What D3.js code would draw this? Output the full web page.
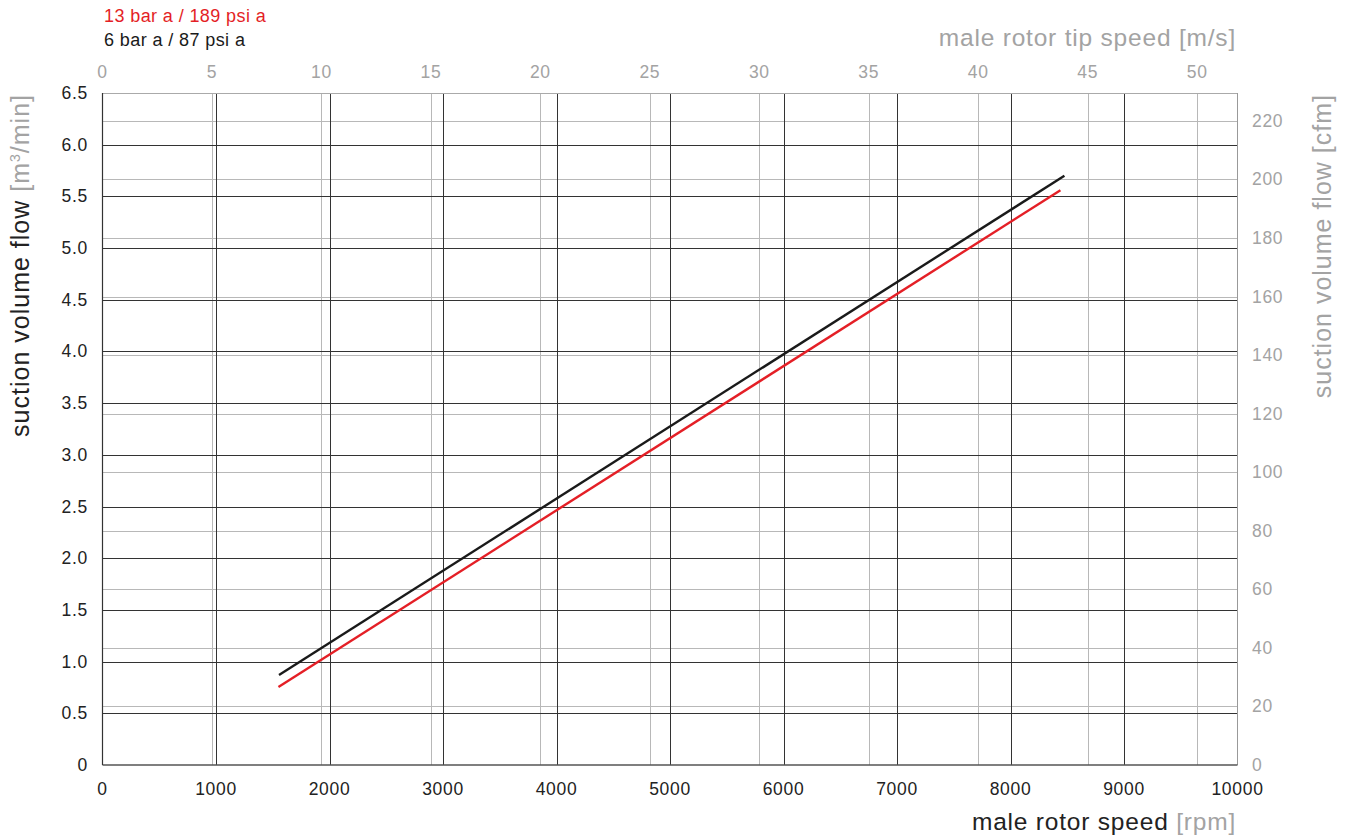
<!DOCTYPE html>
<html>
<head>
<meta charset="utf-8">
<script src="https://cdn.jsdelivr.net/npm/d3@7"></script>
<style>
  body { margin: 0; background: #fff; }
  text { font-family: "Liberation Sans", Arial, sans-serif; }
</style>
</head>
<body>
<div id="chart"></div>
<script>
// series data: male rotor speed [rpm] vs suction volume flow [m3/min]
var seriesNames = ["13 bar a / 189 psi a", "6 bar a / 87 psi a"];
var seriesColors = ["#e41f26", "#1a1a1a"];
var rpm13 = [1550, 8440];
var flow13 = [0.755, 5.56];
var rpm6 = [1555, 8475];
var flow6 = [0.87, 5.70];

// tick values
var rpmTicks = [0, 1000, 2000, 3000, 4000, 5000, 6000, 7000, 8000, 9000, 10000];
var flowTicks = [0, 0.5, 1.0, 1.5, 2.0, 2.5, 3.0, 3.5, 4.0, 4.5, 5.0, 5.5, 6.0, 6.5];
var tipTicks = [0, 5, 10, 15, 20, 25, 30, 35, 40, 45, 50];
var cfmTicks = [0, 20, 40, 60, 80, 100, 120, 140, 160, 180, 200, 220];

var rpmPerMs = 192.9;     // rpm per 1 m/s tip speed
var cfmPerM3 = 35.3147;   // cfm per 1 m3/min

var width = 1352, height = 839;
var pLeft = 102.5, pRight = 1237.5, pTop = 93, pBottom = 765;
var grey = "#a3a3a3", dark = "#333";

var svg = d3.select("#chart").append("svg")
    .attr("width", width).attr("height", height);

var x = d3.scaleLinear().domain([0, 10000]).range([pLeft, pRight]);
var y = d3.scaleLinear().domain([0, 6.5]).range([pBottom, pTop]);
var xTip = d3.scaleLinear().domain([0, 10000 / rpmPerMs]).range([pLeft, pRight]);
var yCfm = d3.scaleLinear().domain([0, 6.5 * cfmPerM3]).range([pBottom, pTop]);

// grey grid (secondary units)
svg.append("g").selectAll("line").data(tipTicks.filter(function(d){ return d > 0; }))
  .enter().append("line")
  .attr("x1", function(d){ return Math.round(xTip(d)) + 0.5; })
  .attr("x2", function(d){ return Math.round(xTip(d)) + 0.5; })
  .attr("y1", pTop).attr("y2", pBottom)
  .attr("stroke", "#b8b8b8").attr("stroke-width", 1);
svg.append("g").selectAll("line").data(cfmTicks.filter(function(d){ return d > 0; }))
  .enter().append("line")
  .attr("y1", function(d){ return Math.round(yCfm(d)) + 0.5; })
  .attr("y2", function(d){ return Math.round(yCfm(d)) + 0.5; })
  .attr("x1", pLeft).attr("x2", pRight)
  .attr("stroke", "#b8b8b8").attr("stroke-width", 1);

// dark grid (primary units)
svg.append("g").selectAll("line").data(rpmTicks.filter(function(d){ return d > 0 && d < 10000; }))
  .enter().append("line")
  .attr("x1", function(d){ return Math.round(x(d)) + 0.5; })
  .attr("x2", function(d){ return Math.round(x(d)) + 0.5; })
  .attr("y1", pTop).attr("y2", pBottom)
  .attr("stroke", dark).attr("stroke-width", 1);
svg.append("g").selectAll("line").data(flowTicks.filter(function(d){ return d > 0 && d < 6.5; }))
  .enter().append("line")
  .attr("y1", function(d){ return Math.round(y(d)) + 0.5; })
  .attr("y2", function(d){ return Math.round(y(d)) + 0.5; })
  .attr("x1", pLeft).attr("x2", pRight)
  .attr("stroke", dark).attr("stroke-width", 1);

// frame
svg.append("line").attr("x1", pLeft).attr("x2", pRight).attr("y1", pTop + 0.5).attr("y2", pTop + 0.5)
  .attr("stroke", "#aaa");
svg.append("line").attr("x1", pRight).attr("x2", pRight).attr("y1", pTop).attr("y2", pBottom)
  .attr("stroke", "#999");
svg.append("line").attr("x1", pLeft).attr("x2", pRight).attr("y1", pBottom).attr("y2", pBottom)
  .attr("stroke", "#555").attr("stroke-width", 1.5);
svg.append("line").attr("x1", pLeft).attr("x2", pLeft).attr("y1", pTop).attr("y2", pBottom)
  .attr("stroke", dark).attr("stroke-width", 1.2);

// series lines
var line = d3.line()
  .x(function(d){ return x(d[0]); })
  .y(function(d){ return y(d[1]); });
var series = [d3.zip(rpm13, flow13), d3.zip(rpm6, flow6)];
svg.append("g").selectAll("path").data(series).enter().append("path")
  .attr("d", line)
  .attr("fill", "none")
  .attr("stroke", function(d, i){ return seriesColors[i]; })
  .attr("stroke-width", 2.4);

// bottom axis labels
svg.append("g").selectAll("text").data(rpmTicks).enter().append("text")
  .attr("x", function(d){ return x(d); }).attr("y", 795)
  .attr("text-anchor", "middle").attr("font-size", 17.5).attr("letter-spacing", 0.7).attr("fill", "#222")
  .text(function(d){ return d; });
// top axis labels
svg.append("g").selectAll("text").data(tipTicks).enter().append("text")
  .attr("x", function(d){ return xTip(d); }).attr("y", 78)
  .attr("text-anchor", "middle").attr("font-size", 17.5).attr("letter-spacing", 0.7).attr("fill", grey)
  .text(function(d){ return d; });
// left axis labels
svg.append("g").selectAll("text").data(flowTicks).enter().append("text")
  .attr("x", 88).attr("y", function(d){ return y(d) + 6; })
  .attr("text-anchor", "end").attr("font-size", 17.5).attr("letter-spacing", 0.7).attr("fill", "#222")
  .text(function(d){ return d === 0 ? "0" : d.toFixed(1); });
// right axis labels
svg.append("g").selectAll("text").data(cfmTicks).enter().append("text")
  .attr("x", 1252).attr("y", function(d){ return yCfm(d) + 6; })
  .attr("text-anchor", "start").attr("font-size", 17.5).attr("letter-spacing", 0.7).attr("fill", grey)
  .text(function(d){ return d; });

// legend
svg.append("g").selectAll("text").data(seriesNames).enter().append("text")
  .attr("x", 104).attr("y", function(d, i){ return 22 + i * 24; })
  .attr("font-size", 18).attr("letter-spacing", 0.4).attr("fill", function(d, i){ return seriesColors[i]; })
  .text(function(d){ return d; });

// axis titles
svg.append("text").attr("x", 1236).attr("y", 46).attr("text-anchor", "end")
  .attr("font-size", 24.5).attr("letter-spacing", 0.8).attr("fill", grey).text("male rotor tip speed [m/s]");

var bt = svg.append("text").attr("x", 1236).attr("y", 830).attr("text-anchor", "end")
  .attr("font-size", 24.5).attr("letter-spacing", 0.8).attr("fill", "#222");
bt.append("tspan").text("male rotor speed ");
bt.append("tspan").attr("fill", grey).text("[rpm]");

var lt = svg.append("text").attr("transform", "translate(29,94) rotate(-90)")
  .attr("text-anchor", "end").attr("font-size", 25).attr("letter-spacing", 1).attr("fill", "#222");
lt.append("tspan").text("suction volume flow ");
lt.append("tspan").attr("fill", grey).text("[m");
lt.append("tspan").attr("fill", grey).attr("font-size", 14).attr("dy", -9).text("3");
lt.append("tspan").attr("fill", grey).attr("dy", 9).text("/min]");

svg.append("text").attr("transform", "translate(1331,94) rotate(-90)")
  .attr("text-anchor", "end").attr("font-size", 25).attr("letter-spacing", 1).attr("fill", grey)
  .text("suction volume flow [cfm]");
</script>
</body>
</html>
